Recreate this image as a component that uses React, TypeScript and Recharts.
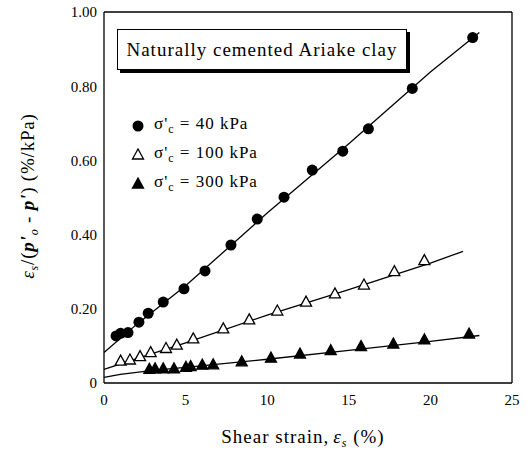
import React from 'react';
import {
  ComposedChart, Scatter, XAxis, YAxis, Legend
} from 'recharts';

// measured points, shear strain (%) vs eps_s/(p'0 - p') (%/kPa)
const pts40 = [
  { x: 0.74, y: 0.127 }, { x: 1.02, y: 0.134 }, { x: 1.47, y: 0.136 }, { x: 2.14, y: 0.164 },
  { x: 2.71, y: 0.188 }, { x: 3.63, y: 0.218 }, { x: 4.9, y: 0.254 }, { x: 6.19, y: 0.302 },
  { x: 7.78, y: 0.372 }, { x: 9.39, y: 0.442 }, { x: 11.03, y: 0.501 }, { x: 12.76, y: 0.574 },
  { x: 14.63, y: 0.625 }, { x: 16.2, y: 0.685 }, { x: 18.89, y: 0.794 }, { x: 22.59, y: 0.931 },
];
const pts100 = [
  { x: 1.02, y: 0.059 }, { x: 1.59, y: 0.062 }, { x: 2.21, y: 0.071 }, { x: 2.86, y: 0.082 },
  { x: 3.8, y: 0.093 }, { x: 4.46, y: 0.102 }, { x: 5.47, y: 0.119 }, { x: 7.31, y: 0.146 },
  { x: 8.9, y: 0.17 }, { x: 10.62, y: 0.194 }, { x: 12.38, y: 0.218 }, { x: 14.15, y: 0.24 },
  { x: 15.93, y: 0.264 }, { x: 17.79, y: 0.3 }, { x: 19.63, y: 0.33 },
];
const pts300 = [
  { x: 2.78, y: 0.037 }, { x: 3.13, y: 0.038 }, { x: 3.63, y: 0.038 }, { x: 4.29, y: 0.038 },
  { x: 5.02, y: 0.042 }, { x: 5.31, y: 0.044 }, { x: 6.02, y: 0.048 }, { x: 6.69, y: 0.049 },
  { x: 8.44, y: 0.057 }, { x: 10.23, y: 0.067 }, { x: 12.01, y: 0.078 }, { x: 13.89, y: 0.087 },
  { x: 15.75, y: 0.098 }, { x: 17.73, y: 0.105 }, { x: 19.63, y: 0.116 }, { x: 22.37, y: 0.132 },
];

// fitted curves
const fit40 = [
  { x: 0, y: 0.082 }, { x: 2, y: 0.158 }, { x: 5, y: 0.262 }, { x: 10, y: 0.458 },
  { x: 15, y: 0.645 }, { x: 20, y: 0.838 }, { x: 23, y: 0.945 },
];
const fit100 = [
  { x: 0, y: 0.037 }, { x: 2, y: 0.066 }, { x: 5, y: 0.108 }, { x: 10, y: 0.183 },
  { x: 15, y: 0.252 }, { x: 20, y: 0.323 }, { x: 22, y: 0.355 },
];
const fit300 = [
  { x: 0, y: 0.015 }, { x: 1, y: 0.023 }, { x: 3, y: 0.034 }, { x: 5, y: 0.042 },
  { x: 10, y: 0.064 }, { x: 15, y: 0.088 }, { x: 20, y: 0.112 }, { x: 23, y: 0.128 },
];

const xLabelTicks = [0, 5, 10, 15, 20, 25];
const xMinorTicks = [0, 2.5, 5, 7.5, 10, 12.5, 15, 17.5, 20, 22.5, 25];
const yLabelTicks = [0, 0.2, 0.4, 0.6, 0.8, 1.0];
const yMinorTicks = [0, 0.1, 0.2, 0.3, 0.4, 0.5, 0.6, 0.7, 0.8, 0.9, 1.0];

const legendStress = ['40', '100', '300'];
const legendMarkers = ['circle', 'open', 'filled'];

const FONT = '"Liberation Serif", "Times New Roman", serif';
const tickFont = { fontFamily: FONT, fontSize: 15, fill: '#000' };
const frame = { stroke: '#000', strokeWidth: 1.3 };

const Circle = (p: any) => <circle cx={p.cx} cy={p.cy} r={5.5} fill="#000" />;
const Tri = (filled: boolean) => (p: any) => (
  <polygon
    points={`${p.cx},${p.cy - 6} ${p.cx - 5.5},${p.cy + 4} ${p.cx + 5.5},${p.cy + 4}`}
    fill={filled ? '#000' : '#fff'} stroke="#000" strokeWidth={1.3}
  />
);
const NoDot = () => <g />;

function Marker({ kind }: { kind: string }) {
  return (
    <svg width={14} height={14} style={{ verticalAlign: 'middle' }}>
      {kind === 'circle'
        ? <circle cx={7} cy={7} r={5.5} fill="#000" />
        : <polygon points="7,1 1.5,11 12.5,11" fill={kind === 'filled' ? '#000' : '#fff'} stroke="#000" strokeWidth={1.3} />}
    </svg>
  );
}

const renderLegend = () => (
  <div style={{ fontFamily: FONT, fontSize: 17, letterSpacing: 1 }}>
    {legendStress.map((s, i) => (
      <div key={s} style={{ height: 29, display: 'flex', alignItems: 'center' }}>
        <Marker kind={legendMarkers[i]} />
        <span style={{ marginLeft: 9 }}>
          σ'<sub style={{ fontSize: 12, verticalAlign: -4 }}>c</sub> = {s} kPa
        </span>
      </div>
    ))}
  </div>
);

const XTitle = (props: any) => {
  const vb = props.viewBox;
  return (
    <text x={vb.x + vb.width / 2 - 5} y={443} textAnchor="middle" fontFamily={FONT} fontSize={19} letterSpacing={1}>
      Shear strain,
      <tspan fontStyle="italic" dx={4}>ε</tspan>
      <tspan fontStyle="italic" fontSize={12} dy={4}>s</tspan>
      <tspan dy={-4}> (%)</tspan>
    </text>
  );
};

const YTitle = () => (
  <text transform="translate(34,196) rotate(-90)" textAnchor="middle" fontFamily={FONT} fontSize={19} letterSpacing={0.8}>
    <tspan fontStyle="italic">ε</tspan>
    <tspan fontStyle="italic" fontSize={12} dy={4}>s</tspan>
    <tspan dy={-4}>/(</tspan>
    <tspan fontStyle="italic" fontWeight="bold">p'</tspan>
    <tspan fontStyle="italic" fontSize={12} dy={4}>o</tspan>
    <tspan dy={-4}> - </tspan>
    <tspan fontStyle="italic" fontWeight="bold">p'</tspan>
    <tspan>) (%/kPa)</tspan>
  </text>
);

export default function App() {
  return (
    <div style={{ position: 'absolute', left: 0, top: 0, width: 528, height: 459, background: '#fff' }}>
      <ComposedChart width={528} height={459} margin={{ top: 12, right: 16, left: 0, bottom: 0 }}>
        {/* label axes */}
        <XAxis xAxisId="b" dataKey="x" type="number" domain={[0, 25]} ticks={xLabelTicks} interval={0}
          height={76} tickLine={false} axisLine={false} tickSize={0} tickMargin={11} tick={tickFont}
          label={<XTitle />} />
        <YAxis yAxisId="l" dataKey="y" type="number" domain={[0, 1]} ticks={yLabelTicks} interval={0}
          width={104} tickLine={false} axisLine={false} tickSize={0} tickMargin={7} tick={tickFont}
          tickFormatter={(v: number) => (v === 0 ? '0' : v.toFixed(2))}
          label={<YTitle />} />

        {/* mirrored axes: frame + inward ticks on all four sides */}
        <XAxis xAxisId="bm" dataKey="x" type="number" domain={[0, 25]} ticks={xMinorTicks} interval={0}
          mirror height={10} tickSize={7} tick={() => null} axisLine={frame} tickLine={frame} />
        <XAxis xAxisId="t" orientation="top" dataKey="x" type="number" domain={[0, 25]} ticks={xMinorTicks} interval={0}
          mirror height={10} tickSize={7} tick={() => null} axisLine={frame} tickLine={frame} />
        <YAxis yAxisId="lm" dataKey="y" type="number" domain={[0, 1]} ticks={yMinorTicks} interval={0}
          mirror width={10} tickSize={7} tick={() => null} axisLine={frame} tickLine={frame} />
        <YAxis yAxisId="r" orientation="right" dataKey="y" type="number" domain={[0, 1]} ticks={yMinorTicks} interval={0}
          mirror width={10} tickSize={7} tick={() => null} axisLine={frame} tickLine={frame} />

        <Scatter xAxisId="b" yAxisId="l" data={fit40} line={frame} lineType="joint" shape={NoDot} isAnimationActive={false} />
        <Scatter xAxisId="b" yAxisId="l" data={fit100} line={frame} lineType="joint" shape={NoDot} isAnimationActive={false} />
        <Scatter xAxisId="b" yAxisId="l" data={fit300} line={frame} lineType="joint" shape={NoDot} isAnimationActive={false} />
        <Scatter xAxisId="b" yAxisId="l" data={pts40} shape={Circle} isAnimationActive={false} />
        <Scatter xAxisId="b" yAxisId="l" data={pts100} shape={Tri(false)} isAnimationActive={false} />
        <Scatter xAxisId="b" yAxisId="l" data={pts300} shape={Tri(true)} isAnimationActive={false} />

        <Legend layout="vertical" align="center" verticalAlign="middle" content={renderLegend}
          wrapperStyle={{ left: 131, top: 111, width: 200 }} />
      </ComposedChart>

      <div style={{
        position: 'absolute', left: 117, top: 29, width: 288, height: 39,
        border: '1.3px solid #000', boxShadow: '3px 3px 0 #000', background: '#fff',
        fontFamily: FONT, fontSize: 19, letterSpacing: 1, lineHeight: '39px', textAlign: 'center',
      }}>
        Naturally cemented Ariake clay
      </div>
    </div>
  );
}
